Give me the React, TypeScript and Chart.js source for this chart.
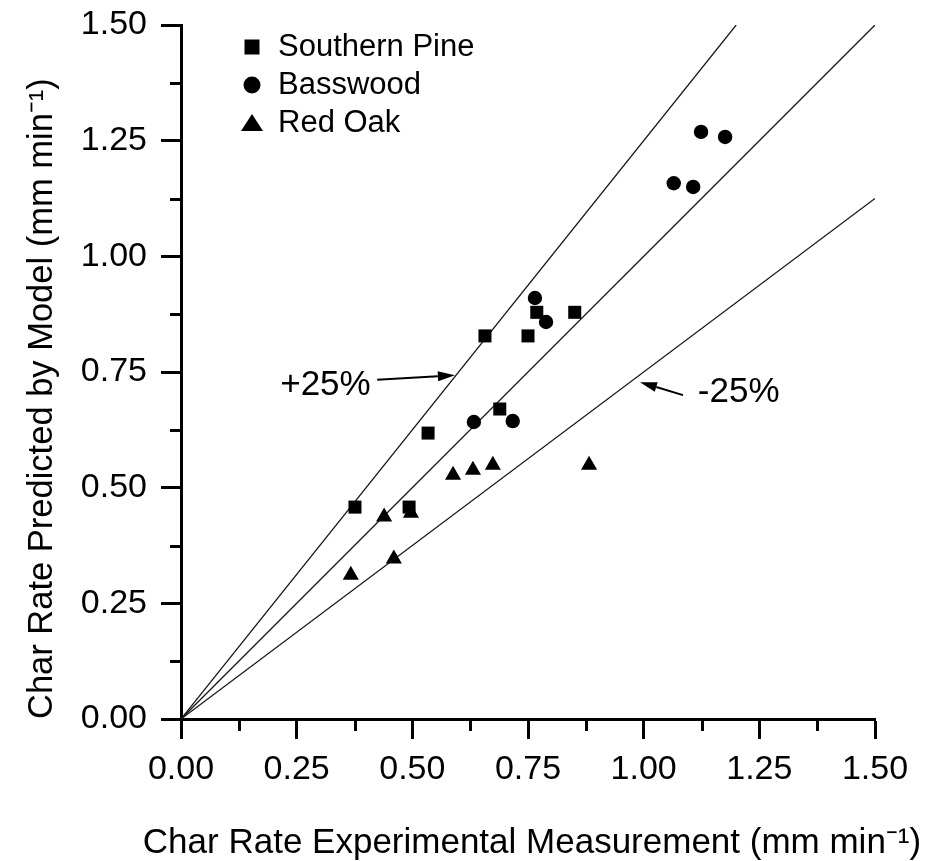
import React, { useEffect, useRef } from 'react';
import { Chart, registerables } from 'chart.js';

Chart.register(...registerables);

// ---- data ----
const seriesNames = ['Southern Pine', 'Basswood', 'Red Oak'];
const pineX = [0.376, 0.493, 0.534, 0.657, 0.689, 0.750, 0.769, 0.851];
const pineY = [0.458, 0.458, 0.618, 0.828, 0.670, 0.828, 0.879, 0.879];
const bassX = [0.633, 0.717, 0.765, 0.789, 1.065, 1.107, 1.124, 1.176];
const bassY = [0.642, 0.644, 0.910, 0.858, 1.158, 1.150, 1.269, 1.258];
const oakX = [0.367, 0.439, 0.460, 0.497, 0.588, 0.631, 0.674, 0.882];
const oakY = [0.311, 0.437, 0.346, 0.445, 0.527, 0.538, 0.549, 0.549];

// reference lines (end points)
const plusLineX = [0, 1.2];
const plusLineY = [0, 1.5];
const unityLineX = [0, 1.5];
const unityLineY = [0, 1.5];
const minusLineX = [0, 1.5];
const minusLineY = [0, 1.125];

const axisMin = 0;
const axisMax = 1.5;
const majorStep = 0.25;
const minorStep = 0.125;

const xTitle = 'Char Rate Experimental Measurement (mm min\u207B\u00B9)';
const yTitle = 'Char Rate Predicted by Model (mm min\u207B\u00B9)';

const annotationTexts = ['+25%', '-25%'];
const annotationAnchors = [
  { textX: 0.41, textY: 0.722, align: 'right', tailX: 0.424, tailY: 0.733, tipX: 0.592, tipY: 0.743 },
  { textX: 1.117, textY: 0.707, align: 'left', tailX: 1.085, tailY: 0.700, tipX: 0.992, tipY: 0.728 },
];

const FONT = '"Liberation Sans", Arial, Helvetica, sans-serif';

const zip = (xs: number[], ys: number[]) => xs.map((x, i) => ({ x, y: ys[i] }));
const isMajor = (v: any) => {
  const n = Number(v) / majorStep;
  return Math.abs(n - Math.round(n)) < 1e-6;
};

const markerStyles = ['rect', 'circle', 'triangle'];

function drawLegendMarker(ctx: CanvasRenderingContext2D, style: string, x: number, y: number) {
  ctx.beginPath();
  if (style === 'rect') {
    ctx.rect(x - 7.5, y - 7.5, 15, 15);
  } else if (style === 'circle') {
    ctx.arc(x, y, 8.5, 0, Math.PI * 2);
  } else {
    ctx.moveTo(x, y - 9);
    ctx.lineTo(x + 11, y + 8);
    ctx.lineTo(x - 11, y + 8);
    ctx.closePath();
  }
  ctx.fill();
}

const decorPlugin = {
  id: 'decor',
  afterDraw(chart: any) {
    const ctx: CanvasRenderingContext2D = chart.ctx;
    const xs = chart.scales.x;
    const ys = chart.scales.y;
    const area = chart.chartArea;
    ctx.save();
    // minor ticks
    ctx.strokeStyle = '#000';
    ctx.lineWidth = 3;
    xs.ticks.forEach((t: any) => {
      if (!isMajor(t.value)) {
        const px = Math.round(xs.getPixelForValue(t.value)) + 0.5;
        ctx.beginPath();
        ctx.moveTo(px, area.bottom);
        ctx.lineTo(px, area.bottom + 12);
        ctx.stroke();
      }
    });
    ys.ticks.forEach((t: any) => {
      if (!isMajor(t.value)) {
        const py = Math.round(ys.getPixelForValue(t.value)) + 0.5;
        ctx.beginPath();
        ctx.moveTo(area.left, py);
        ctx.lineTo(area.left - 11, py);
        ctx.stroke();
      }
    });

    // x axis title (drawn without width compression)
    ctx.fillStyle = '#000';
    ctx.font = `35px ${FONT}`;
    ctx.textAlign = 'center';
    ctx.textBaseline = 'alphabetic';
    ctx.fillText(xTitle, (area.left + area.right) / 2 + 4, area.bottom + 134);

    // annotations with arrows
    ctx.strokeStyle = '#000';
    ctx.font = `35px ${FONT}`;
    ctx.textBaseline = 'middle';
    annotationTexts.forEach((txt, i) => {
      const a = annotationAnchors[i];
      ctx.textAlign = a.align as CanvasTextAlign;
      ctx.fillText(txt, xs.getPixelForValue(a.textX), ys.getPixelForValue(a.textY));
      const x1 = xs.getPixelForValue(a.tailX);
      const y1 = ys.getPixelForValue(a.tailY);
      const x2 = xs.getPixelForValue(a.tipX);
      const y2 = ys.getPixelForValue(a.tipY);
      const ang = Math.atan2(y2 - y1, x2 - x1);
      const headL = 17;
      const headW = 5;
      const bx = x2 - Math.cos(ang) * headL;
      const by = y2 - Math.sin(ang) * headL;
      ctx.lineWidth = 2;
      ctx.beginPath();
      ctx.moveTo(x1, y1);
      ctx.lineTo(bx, by);
      ctx.stroke();
      ctx.beginPath();
      ctx.moveTo(x2, y2);
      ctx.lineTo(bx - Math.sin(ang) * headW, by + Math.cos(ang) * headW);
      ctx.lineTo(bx + Math.sin(ang) * headW, by - Math.cos(ang) * headW);
      ctx.closePath();
      ctx.fill();
    });

    // legend
    ctx.font = `31px ${FONT}`;
    ctx.textAlign = 'left';
    ctx.textBaseline = 'middle';
    seriesNames.forEach((name, i) => {
      const y = area.top + 22 + i * 38;
      drawLegendMarker(ctx, markerStyles[i], area.left + 71, y);
      ctx.fillText(name, area.left + 97, y);
    });
    ctx.restore();
  },
};

export default function App() {
  const canvasRef = useRef<HTMLCanvasElement | null>(null);

  useEffect(() => {
    document.body.style.margin = '0';
    const canvas = canvasRef.current;
    if (!canvas) return;

    const tickFont = { family: FONT, size: 34 };
    const gridCfg = {
      display: true,
      drawOnChartArea: false,
      drawTicks: true,
      tickLength: 20,
      tickWidth: 3,
      tickColor: (c: any) => (c.tick && isMajor(c.tick.value) ? '#000' : 'rgba(0,0,0,0)'),
    };
    const borderCfg = { display: true, color: '#000', width: 3 };
    const labelCb = (v: any) => (isMajor(v) ? Number(v).toFixed(2) : '');

    const pointDs = (label: string, xs: number[], ys: number[], style: string, radius: number) => ({
      label,
      data: zip(xs, ys),
      pointStyle: style,
      pointRadius: radius,
      pointHoverRadius: radius,
      backgroundColor: '#000',
      borderColor: '#000',
      borderWidth: 0,
      showLine: false,
    });
    const lineDs = (label: string, xs: number[], ys: number[]) => ({
      label,
      data: zip(xs, ys),
      showLine: true,
      pointRadius: 0,
      borderColor: '#1a1a1a',
      borderWidth: 1.3,
      fill: false,
    });

    const chart = new Chart(canvas, {
      type: 'scatter',
      data: {
        datasets: [
          pointDs(seriesNames[0], pineX, pineY, 'rect', 9.2),
          pointDs(seriesNames[1], bassX, bassY, 'circle', 7.2),
          pointDs(seriesNames[2], oakX, oakY, 'triangle', 9.3),
          lineDs('+25%', plusLineX, plusLineY),
          lineDs('1:1', unityLineX, unityLineY),
          lineDs('-25%', minusLineX, minusLineY),
        ] as any,
      },
      options: {
        animation: false,
        responsive: false,
        devicePixelRatio: 1,
        layout: { padding: { left: 0, right: 61, top: 25, bottom: 0 } },
        plugins: { legend: { display: false }, tooltip: { enabled: false } },
        scales: {
          x: {
            type: 'linear',
            position: 'bottom',
            min: axisMin,
            max: axisMax,
            afterFit: (s: any) => {
              s.height = 142;
              s.paddingLeft = 0;
              s.paddingRight = 0;
            },
            ticks: {
              stepSize: minorStep,
              autoSkip: false,
              maxRotation: 0,
              padding: 10,
              color: '#000',
              font: tickFont,
              callback: labelCb,
            },
            grid: gridCfg,
            border: borderCfg,
            title: { display: false },
          },
          y: {
            type: 'linear',
            position: 'left',
            min: axisMin,
            max: axisMax,
            afterFit: (s: any) => {
              s.width = 181;
              s.paddingTop = 0;
              s.paddingBottom = 0;
            },
            ticks: {
              stepSize: minorStep,
              autoSkip: false,
              padding: 14,
              color: '#000',
              font: tickFont,
              callback: labelCb,
            },
            grid: gridCfg,
            border: borderCfg,
            title: {
              display: true,
              text: yTitle,
              align: 'start',
              color: '#000',
              font: { family: FONT, size: 34.5 },
              padding: { top: 22, bottom: 0 },
            },
          },
        },
      } as any,
      plugins: [decorPlugin],
    });

    return () => {
      chart.destroy();
    };
  }, []);

  return (
    <div style={{ width: 936, height: 861, background: '#fff' }}>
      <canvas ref={canvasRef} width={936} height={861} style={{ display: 'block' }} />
    </div>
  );
}
